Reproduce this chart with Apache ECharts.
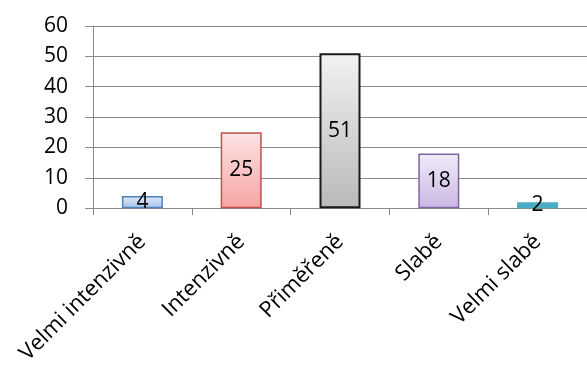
<!DOCTYPE html>
<html>
<head>
<meta charset="utf-8">
<script src="https://cdn.jsdelivr.net/npm/echarts@6/dist/echarts.min.js"></script>
<style>
  html, body { margin: 0; padding: 0; background: #fff; }
  #chart { width: 587px; height: 367px; }
</style>
</head>
<body>
<div id="chart"></div>
<script>
// Response categories and counts
const categories = ['Velmi intenzivně', 'Intenzivně', 'Přiměřeně', 'Slabě', 'Velmi slabě'];
const counts = [4, 25, 51, 18, 2];
const yTicks = [0, 10, 20, 30, 40, 50, 60];

// Per-bar fill (top, bottom) and outline colours
const barStyles = [
  { top: '#dfe9f8', bottom: '#a7c3ec', border: '#4f81bd' },
  { top: '#fde3e3', bottom: '#f6a5a4', border: '#c0504d' },
  { top: '#f2f2f2', bottom: '#b9b9b9', border: '#1a1a1a' },
  { top: '#f1ebf8', bottom: '#cab7e3', border: '#8064a2' },
  { top: '#4bacc6', bottom: '#4bacc6', border: '#4bacc6' }
];

const FONT = '"Open Sans", "Liberation Sans", sans-serif';
const GRID = '#8a8a8a';

const chart = echarts.init(document.getElementById('chart'), null, { renderer: 'canvas' });

chart.setOption({
  animation: false,
  backgroundColor: '#ffffff',
  grid: { left: 93, top: 26, right: -9, bottom: 158, containLabel: false },
  xAxis: {
    type: 'category',
    data: categories,
    axisLine: { lineStyle: { color: GRID, width: 1 } },
    axisTick: { show: true, alignWithLabel: false, length: 7, lineStyle: { color: GRID } },
    axisLabel: {
      rotate: 45,
      interval: 0,
      margin: 30,
      color: '#000',
      fontFamily: FONT,
      fontSize: 22
    }
  },
  yAxis: {
    type: 'value',
    min: yTicks[0],
    max: yTicks[yTicks.length - 1],
    interval: 10,
    axisLine: { show: true, lineStyle: { color: GRID, width: 1 } },
    axisTick: { show: true, inside: false, length: 8, lineStyle: { color: GRID } },
    splitLine: { show: true, lineStyle: { color: GRID, width: 1 } },
    axisLabel: {
      margin: 25,
      color: '#000',
      fontFamily: FONT,
      fontSize: 21
    }
  },
  series: [{
    type: 'bar',
    barWidth: 41,
    data: counts.map((v, i) => ({
      value: v,
      itemStyle: {
        color: new echarts.graphic.LinearGradient(0, 0, 0, 1, [
          { offset: 0, color: barStyles[i].top },
          { offset: 1, color: barStyles[i].bottom }
        ]),
        borderColor: barStyles[i].border,
        borderWidth: i === 4 ? 0 : (i === 2 ? 2 : 1.5)
      }
    })),
    label: {
      show: true,
      position: 'inside',
      color: '#000',
      fontFamily: FONT,
      fontSize: 21
    }
  }]
});
</script>
</body>
</html>
